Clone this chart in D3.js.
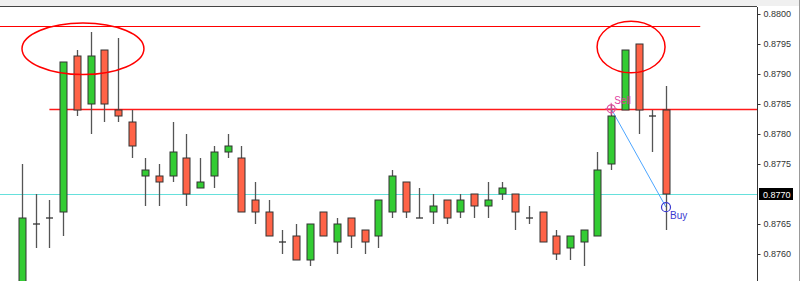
<!DOCTYPE html>
<html>
<head>
<meta charset="utf-8">
<script src="https://cdn.jsdelivr.net/npm/d3@7"></script>
<style>
body { margin: 0; background: #fff; }
svg { display: block; }
.tick text { font-family: "Liberation Sans", Arial, sans-serif; font-size: 9px; fill: #333; }
</style>
</head>
<body>
<svg id="chart" width="800" height="281"></svg>
<script>
// OHLC, one entry per bar
var opens  = [0.8752, 0.8765, 0.8766, 0.8767, 0.8793, 0.8785, 0.8794, 0.8784, 0.8782, 0.8773,
              0.8773, 0.8773, 0.8776, 0.8771, 0.8773, 0.8777, 0.8776, 0.8769, 0.8767, 0.8762,
              0.8763, 0.8759, 0.8767, 0.8762, 0.8766, 0.8764, 0.8763, 0.8767, 0.8772, 0.8766,
              0.8767, 0.8769, 0.8767, 0.8770, 0.8768, 0.8770, 0.8770, 0.8766, 0.8767, 0.8763,
              0.8761, 0.8762, 0.8763, 0.8775, 0.8784, 0.8795, 0.8783, 0.8784];
var highs  = [0.8775, 0.8770, 0.8769, 0.8792, 0.8794, 0.8797, 0.8794, 0.8796, 0.8784, 0.8776,
              0.8775, 0.8782, 0.8780, 0.8776, 0.8778, 0.8780, 0.8778, 0.8772, 0.8769, 0.8764,
              0.8765, 0.8765, 0.8767, 0.8766, 0.8766, 0.8764, 0.8769, 0.8774, 0.8772, 0.8771,
              0.8770, 0.8769, 0.8770, 0.8770, 0.8772, 0.8772, 0.8770, 0.8768, 0.8767, 0.8764,
              0.8763, 0.8764, 0.8777, 0.8785, 0.8794, 0.8795, 0.8784, 0.8788];
var lows   = [0.8750, 0.8761, 0.8761, 0.8763, 0.8783, 0.8780, 0.8782, 0.8782, 0.8776, 0.8768,
              0.8768, 0.8772, 0.8768, 0.8771, 0.8771, 0.8776, 0.8767, 0.8765, 0.8763, 0.8760,
              0.8759, 0.8758, 0.8763, 0.8760, 0.8761, 0.8760, 0.8761, 0.8766, 0.8766, 0.8766,
              0.8765, 0.8765, 0.8766, 0.8766, 0.8766, 0.8769, 0.8764, 0.8765, 0.8762, 0.8759,
              0.8759, 0.8758, 0.8763, 0.8774, 0.8784, 0.8780, 0.8777, 0.8764];
var closes = [0.8766, 0.8765, 0.8766, 0.8792, 0.8784, 0.8793, 0.8785, 0.8783, 0.8778, 0.8774,
              0.8772, 0.8777, 0.8770, 0.8772, 0.8777, 0.8778, 0.8767, 0.8767, 0.8763, 0.8762,
              0.8759, 0.8765, 0.8763, 0.8765, 0.8763, 0.8762, 0.8769, 0.8773, 0.8767, 0.8766,
              0.8768, 0.8766, 0.8769, 0.8768, 0.8769, 0.8771, 0.8767, 0.8766, 0.8762, 0.8760,
              0.8763, 0.8764, 0.8774, 0.8783, 0.8794, 0.8784, 0.8783, 0.8770];

var yTicks = [0.8760, 0.8765, 0.8770, 0.8775, 0.8780, 0.8785, 0.8790, 0.8795, 0.8800];
var lastPrice = 0.8770;

// drawn levels: price, first bar, last bar (null = to the edge)
var levelPrices = [0.8798, 0.87842, 0.8770];
var levelFrom   = [-2, 2, -2];
var levelTo     = [49.5, null, null];
var levelColors = ["#ff0000", "#ff1a1a", "#66e0dc"];
var levelWidths = [1, 1.4, 1];

// ellipses: centre bar, centre price, half width in bars, half height in price
var ellBar   = [4.45, 44.45];
var ellPrice = [0.87942, 0.87945];
var ellRx    = [4.45, 2.48];
var ellRy    = [0.00043, 0.00043];

// trade: sell -> buy
var tradeBars   = [43, 47];
var tradePrices = [0.87842, 0.87678];
var tradeLabels = ["Sell", "Buy"];

var svg = d3.select("#chart"),
    plotRight = 757,
    plotTop = 7,
    height = +svg.attr("height");

var x = d3.scaleLinear().domain([0, opens.length - 1]).range([22, 666]);
var y = d3.scaleLinear().domain([0.8760, 0.8800]).range([254, 14]);

svg.append("rect").attr("x", 0).attr("y", 0).attr("width", 800).attr("height", plotTop - 1)
    .attr("fill", "#f0f0f0");
svg.append("line").attr("x1", 0).attr("x2", plotRight).attr("y1", plotTop - 0.5).attr("y2", plotTop - 0.5)
    .attr("stroke", "#444");
svg.append("line").attr("x1", 799.5).attr("x2", 799.5).attr("y1", 0).attr("y2", height)
    .attr("stroke", "#999");

svg.append("clipPath").attr("id", "plot").append("rect")
    .attr("x", 0).attr("y", plotTop).attr("width", plotRight).attr("height", height - plotTop);

var g = svg.append("g").attr("clip-path", "url(#plot)");

// horizontal levels, under the bars
levelPrices.forEach(function(p, i) {
    var ly = Math.round(y(p)) + 0.5;
    g.append("line")
        .attr("x1", x(levelFrom[i]))
        .attr("x2", levelTo[i] == null ? plotRight : x(levelTo[i]))
        .attr("y1", ly).attr("y2", ly)
        .attr("stroke", levelColors[i]).attr("stroke-width", levelWidths[i]);
});

// trade line under the candles
g.append("line")
    .attr("x1", x(tradeBars[0])).attr("y1", y(tradePrices[0]))
    .attr("x2", x(tradeBars[1])).attr("y2", y(tradePrices[1]))
    .attr("stroke", "#4da6ff").attr("stroke-width", 1);

var sx = x(tradeBars[0]), sy = y(tradePrices[0]);

var data = opens.map(function(o, i) {
    return {i: i, o: o, h: highs[i], l: lows[i], c: closes[i]};
});

var bw = 7;

var candle = g.selectAll(".candle")
    .data(data)
    .enter().append("g")
    .attr("class", "candle");

candle.append("line")
    .attr("x1", function(d) { return Math.round(x(d.i)) + 0.5; })
    .attr("x2", function(d) { return Math.round(x(d.i)) + 0.5; })
    .attr("y1", function(d) { return y(d.h); })
    .attr("y2", function(d) { return y(d.l); })
    .attr("stroke", "#555").attr("stroke-width", 1.3);

candle.filter(function(d) { return d.o != d.c; })
    .append("rect")
    .attr("x", function(d) { return Math.round(x(d.i)) + 0.5 - bw / 2; })
    .attr("y", function(d) { return y(Math.max(d.o, d.c)); })
    .attr("width", bw)
    .attr("height", function(d) { return Math.abs(y(d.o) - y(d.c)); })
    .attr("fill", function(d) { return d.c > d.o ? "#33cc33" : "#ff6347"; })
    .attr("stroke", "#333").attr("stroke-width", 1);

candle.filter(function(d) { return d.o == d.c; })
    .append("line")
    .attr("x1", function(d) { return Math.round(x(d.i)) + 0.5 - bw / 2; })
    .attr("x2", function(d) { return Math.round(x(d.i)) + 0.5 + bw / 2; })
    .attr("y1", function(d) { return y(d.o); })
    .attr("y2", function(d) { return y(d.o); })
    .attr("stroke", "#333").attr("stroke-width", 1.3);

// ellipses
ellBar.forEach(function(b, i) {
    g.append("ellipse")
        .attr("cx", x(b)).attr("cy", y(ellPrice[i]))
        .attr("rx", x(b + ellRx[i]) - x(b))
        .attr("ry", y(ellPrice[i] - ellRy[i]) - y(ellPrice[i]))
        .attr("fill", "none").attr("stroke", "#ff0000").attr("stroke-width", 1.5);
});

// trade markers and labels
g.append("circle").attr("cx", sx).attr("cy", sy).attr("r", 4)
    .attr("fill", "none").attr("stroke", "#e0509f").attr("stroke-width", 1.2);
g.append("path").attr("d", "M" + (sx - 6) + "," + sy + "H" + (sx + 6) + "M" + sx + "," + (sy - 6) + "V" + (sy + 6))
    .attr("stroke", "#e0509f").attr("stroke-width", 1);
g.append("text").attr("x", sx + 3).attr("y", sy - 5)
    .attr("font-family", "Liberation Sans, Arial, sans-serif").attr("font-size", 10)
    .attr("fill", "#e040a0").text(tradeLabels[0]);
g.append("circle").attr("cx", x(tradeBars[1])).attr("cy", y(tradePrices[1])).attr("r", 4.5)
    .attr("fill", "none").attr("stroke", "#3a3ad0").attr("stroke-width", 1.2);
g.append("text").attr("x", x(tradeBars[1]) + 4).attr("y", y(tradePrices[1]) + 12)
    .attr("font-family", "Liberation Sans, Arial, sans-serif").attr("font-size", 10)
    .attr("fill", "#3a3ad0").text(tradeLabels[1]);

// price axis
var axis = svg.append("g")
    .attr("transform", "translate(" + (plotRight + 0.5) + ",0)")
    .call(d3.axisRight(y).tickValues(yTicks).tickSize(3).tickPadding(3).tickFormat(d3.format(".4f")));
axis.select(".domain").attr("stroke", "#333").attr("d", "M0," + plotTop + "V" + height);
axis.selectAll(".tick line").attr("stroke", "#333");
axis.selectAll(".tick").filter(function(d) { return d == lastPrice; }).remove();

var tag = svg.append("g").attr("transform", "translate(" + (plotRight + 2) + "," + y(lastPrice) + ")");
tag.append("rect").attr("x", 0).attr("y", -6).attr("width", 34).attr("height", 12).attr("fill", "#000");
tag.append("text").attr("x", 4).attr("y", 3.5)
    .attr("font-family", "Liberation Sans, Arial, sans-serif").attr("font-size", 9)
    .attr("fill", "#fff").text(d3.format(".4f")(lastPrice));
</script>
</body>
</html>
